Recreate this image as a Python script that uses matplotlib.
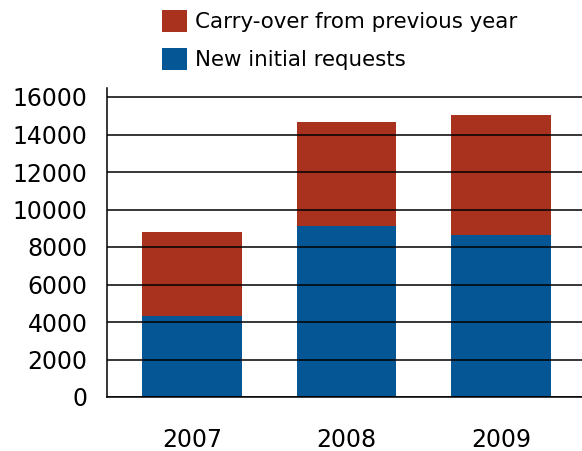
"""Stacked bars: new initial requests and carry-over, 2007-2009."""

import matplotlib
matplotlib.use("Agg")
import matplotlib.pyplot as plt
import numpy as np

matplotlib.rcParams.update({
    "font.family": ["DejaVu Sans"],
    "axes.spines.top": False,
    "axes.spines.right": False,
})

years = ["2007", "2008", "2009"]
new_requests = [4320, 9120, 8640]
carry_over = [4480, 5560, 6420]
y_ticks = [0, 2000, 4000, 6000, 8000, 10000, 12000, 14000, 16000]

RED = "#A9321E"
BLUE = "#045694"

W, H = 582, 451
fig = plt.figure(figsize=(W / 100, H / 100), dpi=100)
# axes box in pixels: left 107, right 582, bottom 397, top 88
ax = fig.add_axes([107 / W, (H - 397) / H, (582 - 107) / W, (397 - 88) / H])

x = np.arange(len(years))
b_new = ax.bar(x, new_requests, width=0.647, color=BLUE, zorder=1,
               label="New initial requests")
b_carry = ax.bar(x, carry_over, bottom=new_requests, width=0.647, color=RED,
                 zorder=1, label="Carry-over from previous year")

ax.set_xlim(-0.55, 2.524)
ax.set_ylim(0, 16480)
ax.set_yticks(y_ticks)
ax.set_yticklabels([str(v) for v in y_ticks], fontsize=17)
ax.set_xticks(x)
ax.set_xticklabels(years, fontsize=17)
ax.tick_params(axis="y", length=0, pad=14)
ax.tick_params(axis="x", length=0, pad=22)

ax.yaxis.grid(True, color="black", linewidth=1.1, zorder=3)
ax.set_axisbelow(False)
for side in ("left", "bottom"):
    ax.spines[side].set_color("black")
    ax.spines[side].set_linewidth(1.1)

fig.legend(handles=[b_carry, b_new],
           labels=["Carry-over from previous year", "New initial requests"],
           loc="upper left", bbox_to_anchor=(162 / W, 1 - 10 / H),
           frameon=False, fontsize=15.4, handlelength=1.17, handleheight=1.2,
           handletextpad=0.38, labelspacing=0.72, borderpad=0, borderaxespad=0)

fig.savefig("out.png", dpi=100)
